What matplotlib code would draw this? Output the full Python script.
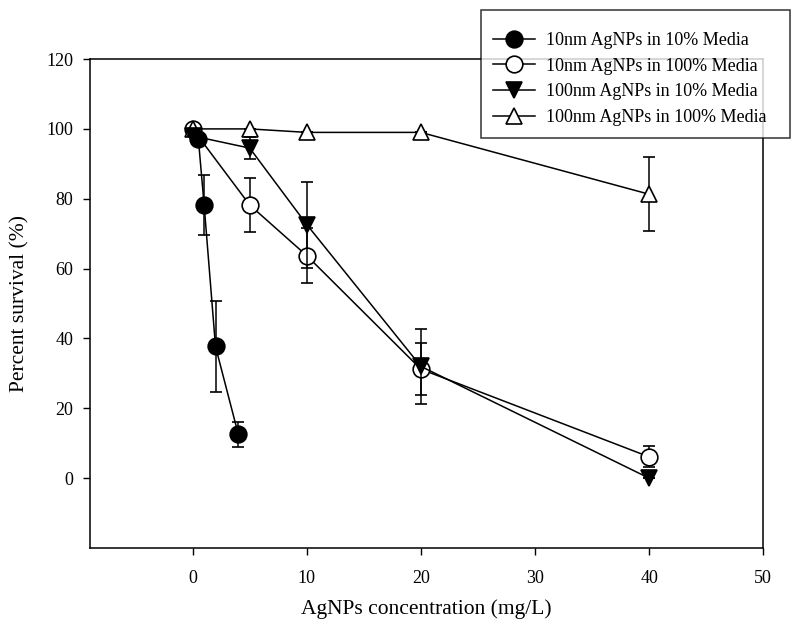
import matplotlib
matplotlib.use("Agg")
import matplotlib.pyplot as plt
from matplotlib.lines import Line2D

plt.rcParams['font.family'] = ['Liberation Serif', 'DejaVu Serif']

labels = ["10nm AgNPs in 10% Media", "10nm AgNPs in 100% Media",
          "100nm AgNPs in 10% Media", "100nm AgNPs in 100% Media"]

x_10nm_10 = [0.5, 1, 2, 4]
y_10nm_10 = [97, 78.3, 37.7, 12.5]
e_10nm_10 = [0, 8.6, 12.9, 3.5]

x_10nm_100 = [0, 5, 10, 20, 40]
y_10nm_100 = [100, 78.2, 63.7, 31.2, 6.1]
e_10nm_100 = [0, 7.8, 7.8, 7.4, 3.0]

x_100nm_10 = [0, 5, 10, 20, 40]
y_100nm_10 = [98, 94.5, 72.6, 32.0, 0]
e_100nm_10 = [0, 3.2, 12.3, 10.8, 0]

x_100nm_100 = [0, 5, 10, 20, 40]
y_100nm_100 = [100, 100, 99, 99, 81.3]
e_100nm_100 = [0, 0, 0, 0, 10.6]

xticks = [0, 10, 20, 30, 40, 50]
yticks = [0, 20, 40, 60, 80, 100, 120]

fig = plt.figure(figsize=(8, 6.35), dpi=100)
ax = fig.add_axes([0.1125, 0.137, 0.954 - 0.1125, 0.907 - 0.137])

series = [
    (x_10nm_100, y_10nm_100, e_10nm_100, 'o', 'white', labels[1]),
    (x_100nm_100, y_100nm_100, e_100nm_100, '^', 'white', labels[3]),
    (x_100nm_10, y_100nm_10, e_100nm_10, 'v', 'black', labels[2]),
    (x_10nm_10, y_10nm_10, e_10nm_10, 'o', 'black', labels[0]),
]
handles = {}
for i, (xs, ys, es, m, fc, lab) in enumerate(series):
    ax.errorbar(xs, ys, yerr=es, fmt='-', marker=m, color='black',
                mfc=fc, mec='black', ms=12, mew=1.2, lw=1.1,
                elinewidth=1.1, capsize=4.5, capthick=1.1,
                zorder=3 + i)
    handles[lab] = Line2D([], [], color='black', lw=1.1, marker=m, mfc=fc,
                          mec='black', ms=12, mew=1.2)

ax.set_xlim(-9, 50)
ax.set_ylim(-20, 120)
ax.set_xticks(xticks)
ax.set_yticks(yticks)
ax.tick_params(direction='out', length=5, width=1, labelsize=13, colors='black', pad=7)
ax.tick_params(axis='x', pad=11)
for s in ax.spines.values():
    s.set_linewidth(1.1)

ax.set_xlabel("AgNPs concentration (mg/L)", fontsize=15.5, labelpad=9)
ax.set_ylabel("Percent survival (%)", fontsize=15.5, labelpad=12)

leg = fig.legend([handles[l] for l in labels], labels,
                 loc='upper left', bbox_to_anchor=(481 / 800, 0.784, 309 / 800, 0.2),
                 mode='expand', title=' ', title_fontsize=0.5,
                 fontsize=13, frameon=True, fancybox=False, edgecolor='black',
                 borderpad=0.68, handlelength=2.3, labelspacing=0.48,
                 handletextpad=0.6, borderaxespad=0, markerscale=1.0)
leg.get_frame().set_linewidth(1.1)

fig.savefig("out.png", dpi=100)
